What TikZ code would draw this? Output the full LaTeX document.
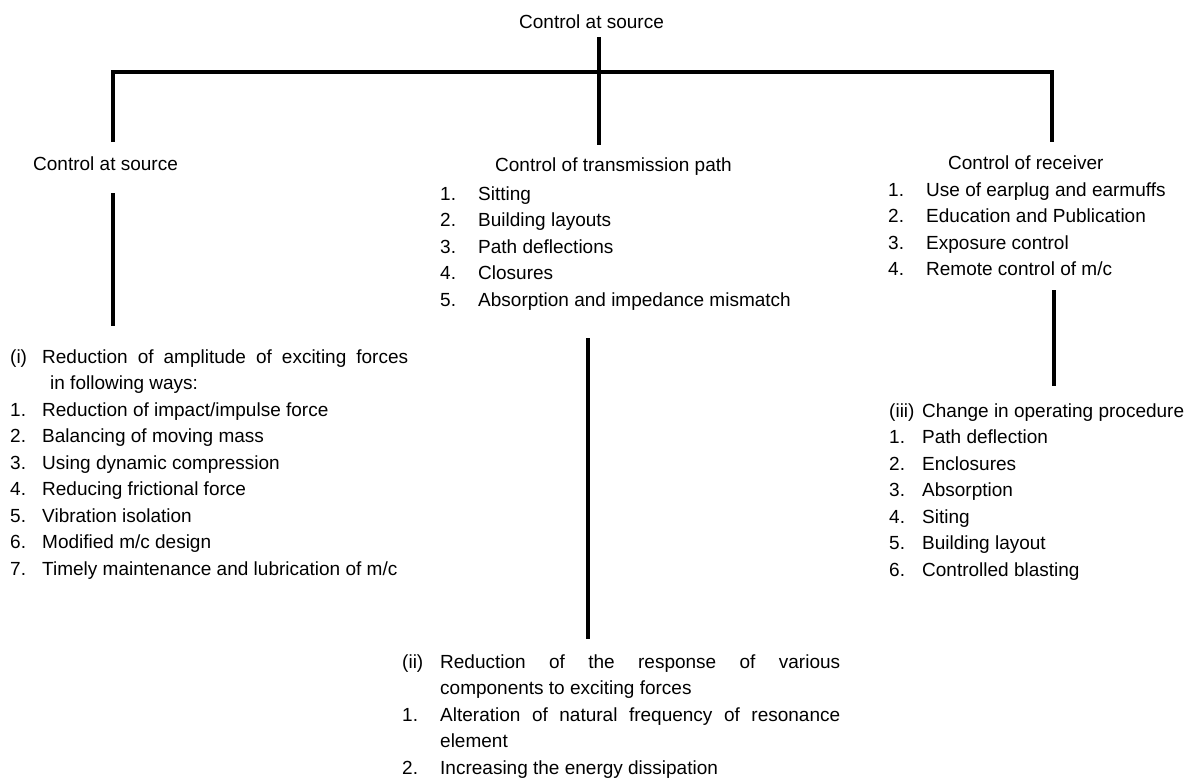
\documentclass[tikz,border=0pt]{standalone}
\usepackage{fontspec}
\setmainfont{Liberation Sans}
\usepackage{array}
\usetikzlibrary{positioning}

\tikzset{
	stem/.style={line width=3.5pt},
	txt/.style={anchor=base west,inner sep=0pt,font=\fontsize{19}{26.5}\selectfont},
}

\begin{document}
\begin{tikzpicture}[x=1pt,y=-1pt]
		\useasboundingbox (0,0) rectangle (1188,780);
		\node[txt] (top) at (519,28) {Control at source};
		\node[txt] (srchead) at (33,170) {Control at source};
		\node[txt] (pathhead) at (495,171) {Control of transmission path};
		\node[txt] (recvhead) at (948,169) {Control of receiver};
		\node[txt] (pathlist) at (440,200) {\begin{tabular}[t]{@{}p{38pt}@{}l@{}}
			1. & Sitting\\
			2. & Building layouts\\
			3. & Path deflections\\
			4. & Closures\\
			5. & Absorption and impedance mismatch
		\end{tabular}};
		\node[txt] (recvlist) at (888,196) {\begin{tabular}[t]{@{}p{38pt}@{}l@{}}
			1. & Use of earplug and earmuffs\\
			2. & Education and Publication\\
			3. & Exposure control\\
			4. & Remote control of m/c
		\end{tabular}};
		\node[txt] (srclist) at (10,363) {\begin{tabular}[t]{@{}p{32pt}@{}p{366pt}@{}}
			(i) & Reduction of amplitude of exciting forces\linebreak\hspace*{8pt}in following ways:\\
			1. & Reduction of impact/impulse force\\
			2. & Balancing of moving mass\\
			3. & Using dynamic compression\\
			4. & Reducing frictional force\\
			5. & Vibration isolation\\
			6. & Modified m/c design\\
			7. & Timely maintenance and lubrication of m/c
		\end{tabular}};
		\node[txt] (pathlow) at (402,668) {\begin{tabular}[t]{@{}p{38pt}@{}p{400pt}@{}}
			(ii) & Reduction of the response of various\linebreak components to exciting forces\\
			1. & Alteration of natural frequency of resonance\linebreak element\\
			2. & Increasing the energy dissipation
		\end{tabular}};
		\node[txt] (recvlow) at (889,417) {\begin{tabular}[t]{@{}p{33pt}@{}l@{}}
			(iii) & Change in operating procedure\\
			1. & Path deflection\\
			2. & Enclosures\\
			3. & Absorption\\
			4. & Siting\\
			5. & Building layout\\
			6. & Controlled blasting
		\end{tabular}};
		\coordinate (hubtop) at (599,37);
		\coordinate (hubbot) at (599,145);
		\coordinate (barL) at (113,72);
		\coordinate (barR) at (1052,72);
		\coordinate (legL) at (113,142);
		\coordinate (legR) at (1052,142);
		\coordinate (s1) at (113,193);
		\coordinate (s2) at (113,326);
		\coordinate (t1) at (588,338);
		\coordinate (t2) at (588,639);
		\coordinate (r1) at (1054,290);
		\coordinate (r2) at (1054,386);
		\draw[stem] (hubtop) -- (hubbot);
		\draw[stem] (legL) -- (barL) -- (barR) -- (legR);
		\draw[stem] (s1) -- (s2);
		\draw[stem] (t1) -- (t2);
		\draw[stem] (r1) -- (r2);
\end{tikzpicture}
\end{document}
